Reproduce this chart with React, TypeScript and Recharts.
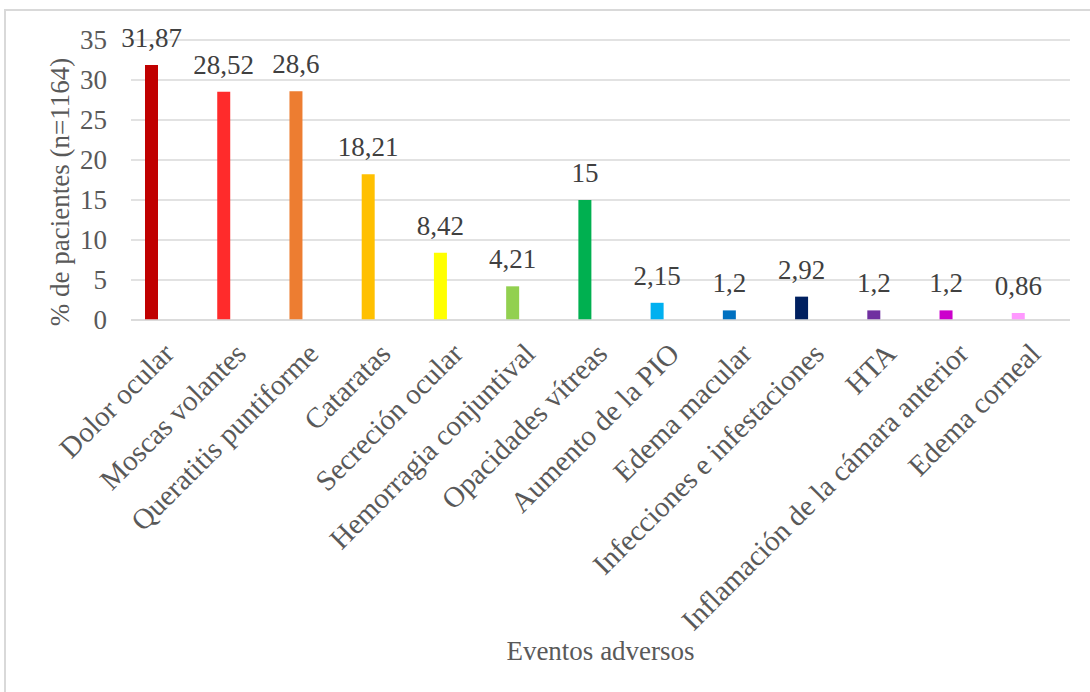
import { Bar, BarChart, CartesianGrid, Cell, LabelList, XAxis, YAxis } from "recharts";

const eventos = [
  "Dolor ocular",
  "Moscas volantes",
  "Queratitis puntiforme",
  "Cataratas",
  "Secreción ocular",
  "Hemorragia conjuntival",
  "Opacidades vítreas",
  "Aumento de la PIO",
  "Edema macular",
  "Infecciones e infestaciones",
  "HTA",
  "Inflamación de la cámara anterior",
  "Edema corneal"
];

const porcentajes = [31.87, 28.52, 28.6, 18.21, 8.42, 4.21, 15, 2.15, 1.2, 2.92, 1.2, 1.2, 0.86];

const colores = [
  "#C00000",
  "#FF2B2B",
  "#ED7D31",
  "#FFC000",
  "#FFFF00",
  "#92D050",
  "#00B050",
  "#00B0F0",
  "#0070C0",
  "#002060",
  "#7030A0",
  "#CC00CC",
  "#FF99FF"
];

const yTicks = [0, 5, 10, 15, 20, 25, 30, 35];

const data = eventos.map((evento, i) => ({
  evento,
  porcentaje: porcentajes[i],
  vacio: null
}));

const FONT = "'Liberation Serif', 'Times New Roman', serif";
const FS = 27;

const CategoryTick = ({ x, y, payload }: any) => (
  <text
    transform={`translate(${x - 9},${y + 10}) rotate(-45)`}
    dy="0.85em"
    textAnchor="end"
    fontSize={29}
    fill="#595959"
    fontFamily={FONT}
  >
    {payload.value}
  </text>
);

const ValueTick = ({ x, y, payload }: any) => (
  <text x={x} y={y} dy="0.35em" textAnchor="end" fontSize={FS} fill="#595959" fontFamily={FONT}>
    {payload.value}
  </text>
);

const ValueLabel = ({ x, y, width, value }: any) => (
  <text
    x={x + width / 2}
    y={y - 18}
    textAnchor="middle"
    fontSize={FS}
    fill="#404040"
    fontFamily={FONT}
  >
    {String(value).replace(".", ",")}
  </text>
);

export default function App() {
  return (
    <div style={{ position: "absolute", top: 0, left: 0, width: 1090, height: 692, background: "#fff" }}>
      <div
        style={{
          position: "absolute",
          top: 9,
          left: 4,
          width: 1090,
          height: 700,
          borderTop: "2px solid #d9d9d9",
          borderLeft: "2px solid #d9d9d9"
        }}
      />
      <BarChart
        width={1090}
        height={692}
        data={data}
        margin={{ top: 40, right: 20, bottom: 0, left: 0 }}
        barSize={13}
        barGap={19}
        style={{ position: "absolute", top: 0, left: 0 }}
      >
        <CartesianGrid stroke="#d9d9d9" strokeWidth={1.5} vertical={false} />
        <XAxis
          dataKey="evento"
          height={372}
          interval={0}
          tickLine={false}
          axisLine={{ stroke: "#d9d9d9", strokeWidth: 1.5 }}
          tick={<CategoryTick />}
          label={({ viewBox }: any) => (
            <text
              x={viewBox.x + viewBox.width / 2}
              y={viewBox.y + 340}
              textAnchor="middle"
              fontSize={FS}
              fill="#595959"
              fontFamily={FONT}
            >
              Eventos adversos
            </text>
          )}
        />
        <YAxis
          width={131}
          domain={[0, 35]}
          ticks={yTicks}
          tickLine={false}
          axisLine={false}
          tickMargin={18}
          tick={<ValueTick />}
          label={({ viewBox }: any) => (
            <text
              transform={`translate(69,${viewBox.y + viewBox.height / 2 + 12}) rotate(-90)`}
              textAnchor="middle"
              fontSize={FS}
              fill="#595959"
              fontFamily={FONT}
            >
              % de pacientes (n=1164)
            </text>
          )}
        />
        <Bar dataKey="porcentaje" isAnimationActive={false}>
          {data.map((_, i) => (
            <Cell key={i} fill={colores[i]} />
          ))}
          <LabelList dataKey="porcentaje" content={<ValueLabel />} />
        </Bar>
        <Bar dataKey="vacio" isAnimationActive={false} fill="transparent" />
      </BarChart>
    </div>
  );
}
